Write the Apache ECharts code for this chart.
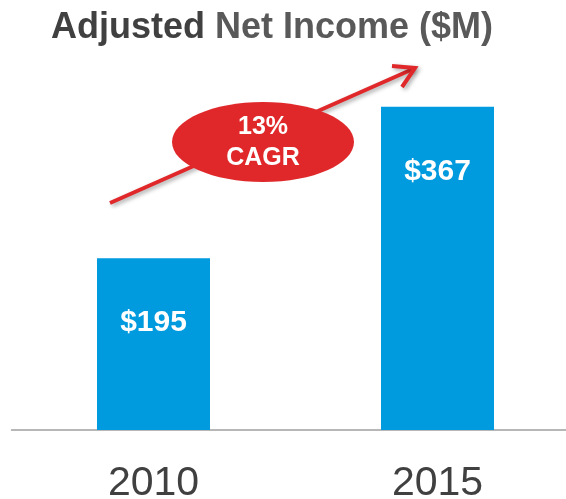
<!DOCTYPE html>
<html>
<head>
<meta charset="utf-8">
<script src="https://cdn.jsdelivr.net/npm/echarts@6/dist/echarts.min.js"></script>
<style>
  html, body { margin: 0; padding: 0; background: #fff; }
  #chart { width: 566px; height: 499px; }
</style>
</head>
<body>
<div id="chart"></div>
<script>
// data
var categories = ['2010', '2015'];
var netIncome = [195, 367];
var cagrText = ['13%', 'CAGR'];

var chart = echarts.init(document.getElementById('chart'));
var red = '#e0282a';

var option = {
  backgroundColor: '#fff',
  animation: false,
  title: {
    left: 46,
    top: 5,
    text: '{a|Adjusted }{b|Net Income ($M)}',
    textStyle: {
      fontFamily: 'Liberation Sans',
      rich: {
        a: { fontSize: 36, fontWeight: 'bold', color: '#404040', fontFamily: 'Liberation Sans' },
        b: { fontSize: 36, fontWeight: 'bold', color: '#595959', fontFamily: 'Liberation Sans' }
      }
    }
  },
  grid: {
    left: 11.5,
    width: 568,
    top: 60,
    bottom: 69,
    containLabel: false,
    outerBoundsMode: 'none'
  },
  xAxis: {
    type: 'category',
    data: categories,
    axisLine: { lineStyle: { color: '#a0a0a0', width: 1.5 } },
    axisTick: { show: false },
    axisLabel: {
      margin: 33,
      fontSize: 41,
      color: '#404040',
      fontFamily: 'Liberation Sans'
    }
  },
  yAxis: {
    type: 'value',
    min: 0,
    max: 420,
    show: false,
    splitLine: { show: false }
  },
  series: [
    {
      type: 'bar',
      data: netIncome,
      barWidth: 113,
      itemStyle: { color: '#009ade' },
      label: {
        show: true,
        position: 'insideTop',
        distance: 50,
        formatter: function (p) { return '$' + p.value; },
        color: '#fff',
        fontSize: 30,
        fontWeight: 'bold',
        fontFamily: 'Liberation Sans'
      }
    }
  ],
  graphic: [
    {
      type: 'polyline',
      z: 10,
      shape: { points: [[110, 203], [413, 69]] },
      style: {
        stroke: red, lineWidth: 4, fill: null,
        shadowBlur: 4, shadowOffsetX: 2, shadowOffsetY: 2, shadowColor: 'rgba(0,0,0,0.35)'
      }
    },
    {
      type: 'polyline',
      z: 10,
      shape: { points: [[392, 66], [415, 68], [402, 87]] },
      style: {
        stroke: red, lineWidth: 4, fill: null, lineJoin: 'miter',
        shadowBlur: 4, shadowOffsetX: 2, shadowOffsetY: 2, shadowColor: 'rgba(0,0,0,0.35)'
      }
    },
    {
      type: 'ellipse',
      z: 11,
      shape: { cx: 263, cy: 142, rx: 91, ry: 40 },
      style: { fill: red }
    },
    {
      type: 'text',
      z: 12,
      x: 263,
      y: 143,
      style: {
        text: cagrText.join('\n'),
        align: 'center',
        verticalAlign: 'middle',
        lineHeight: 31,
        fill: '#fff',
        fontSize: 25,
        fontWeight: 'bold',
        fontFamily: 'Liberation Sans'
      }
    }
  ]
};

chart.setOption(option);
window.addEventListener('resize', function () { chart.resize(); });
</script>
</body>
</html>
